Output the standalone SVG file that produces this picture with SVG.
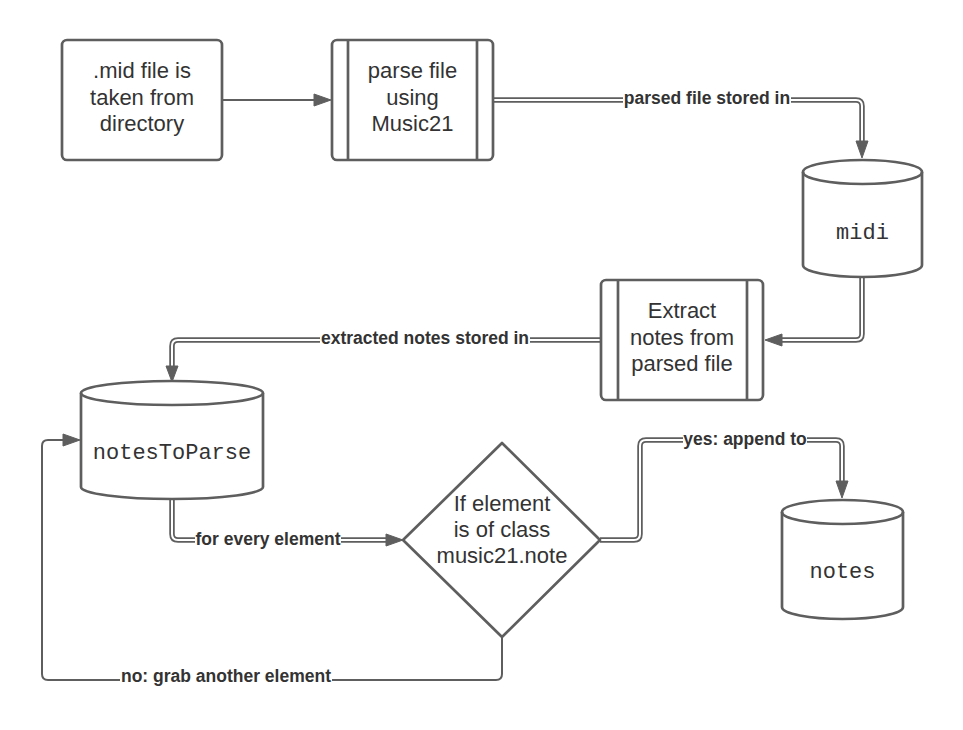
<svg xmlns="http://www.w3.org/2000/svg" width="963" height="730" viewBox="0 0 963 730">
<style>
.shape{fill:#fff;stroke:#5e5e5e;stroke-width:2.7;stroke-linejoin:round}
.inner{fill:none;stroke:#5e5e5e;stroke-width:2.7}
.t{font-family:"Liberation Sans",Arial,sans-serif;font-size:22px;fill:#333;text-anchor:middle}
.m{font-family:"Liberation Mono","Courier New",monospace;font-size:22px;fill:#333;text-anchor:middle}
.lbl{font-family:"Liberation Sans",Arial,sans-serif;font-size:17.5px;font-weight:bold;fill:#333;text-anchor:middle}
.dbo{fill:none;stroke:#5e5e5e;stroke-width:5.5;stroke-linejoin:round}
.dbi{fill:none;stroke:#fff;stroke-width:2;stroke-linejoin:round}
.sgl{fill:none;stroke:#5e5e5e;stroke-width:2;stroke-linejoin:round}
.ah{fill:#5e5e5e;stroke:#5e5e5e;stroke-width:1;stroke-linejoin:round}
.bg{fill:#fff}
</style>
<rect width="963" height="730" fill="#fff"/>
<g id="connectors">
  <path class="sgl" d="M222,100 H314"/>
  <polygon class="ah" points="314,94 314,106 331,100"/>
  <path class="dbo" d="M493,100 H856 Q862,100 862,106 V141"/>
  <path class="dbi" d="M493,100 H856 Q862,100 862,106 V141"/>
  <polygon class="ah" points="856,141 868,141 862,158"/>
  <rect class="bg" x="623" y="88" width="168" height="22"/>
  <text class="lbl" x="707" y="104">parsed file stored in</text>
  <path class="dbo" d="M862,277 V334 Q862,340 856,340 H782"/>
  <path class="dbi" d="M862,277 V334 Q862,340 856,340 H782"/>
  <polygon class="ah" points="782,334 782,346 765,340"/>
  <path class="dbo" d="M601,340 H178 Q172,340 172,346 V366"/>
  <path class="dbi" d="M601,340 H178 Q172,340 172,346 V366"/>
  <polygon class="ah" points="166,366 178,366 172,382"/>
  <rect class="bg" x="320" y="328" width="210" height="22"/>
  <text class="lbl" x="425" y="344">extracted notes stored in</text>
  <path class="dbo" d="M172,500 V534 Q172,540 178,540 H386"/>
  <path class="dbi" d="M172,500 V534 Q172,540 178,540 H386"/>
  <polygon class="ah" points="386,534 386,546 403,540"/>
  <rect class="bg" x="195" y="529" width="146" height="22"/>
  <text class="lbl" x="268" y="545">for every element</text>
  <path class="dbo" d="M600,540 H634 Q640,540 640,534 V446 Q640,440 646,440 H836 Q842,440 842,446 V481"/>
  <path class="dbi" d="M600,540 H634 Q640,540 640,534 V446 Q640,440 646,440 H836 Q842,440 842,446 V481"/>
  <polygon class="ah" points="836,481 848,481 842,498"/>
  <rect class="bg" x="683" y="429" width="124" height="22"/>
  <text class="lbl" x="745" y="445">yes: append to</text>
  <path class="sgl" d="M502,637 V674 Q502,680 496,680 H48 Q42,680 42,674 V446 Q42,440 48,440 H63"/>
  <polygon class="ah" points="63,434 63,446 80,440"/>
  <rect class="bg" x="120" y="669" width="212" height="22"/>
  <text class="lbl" x="226" y="682">no: grab another element</text>
</g>
<g id="node-midfile">
  <rect class="shape" x="62" y="40" width="160" height="120" rx="5"/>
  <text class="t" x="142" y="78">.mid file is</text>
  <text class="t" x="142" y="104.5">taken from</text>
  <text class="t" x="142" y="131">directory</text>
</g>
<g id="node-parse">
  <rect class="shape" x="332" y="40" width="161" height="120" rx="5"/>
  <path class="inner" d="M348,40 V160 M477,40 V160"/>
  <text class="t" x="412.5" y="78">parse file</text>
  <text class="t" x="412.5" y="104.5">using</text>
  <text class="t" x="412.5" y="131">Music21</text>
</g>
<g id="node-midi">
  <path class="shape" d="M803,172 A59.5,12 0 0 1 922,172 V265 A59.5,12 0 0 1 803,265 Z"/>
  <path class="inner" d="M803,172 A59.5,12 0 0 0 922,172"/>
  <text class="m" x="862.5" y="239">midi</text>
</g>
<g id="node-extract">
  <rect class="shape" x="601" y="280" width="162" height="120" rx="5"/>
  <path class="inner" d="M618,280 V400 M747,280 V400"/>
  <text class="t" x="682" y="318">Extract</text>
  <text class="t" x="682" y="344.5">notes from</text>
  <text class="t" x="682" y="371">parsed file</text>
</g>
<g id="node-notesToParse">
  <path class="shape" d="M81,393 A91,12 0 0 1 263,393 V487 A91,12 0 0 1 81,487 Z"/>
  <path class="inner" d="M81,393 A91,12 0 0 0 263,393"/>
  <text class="m" x="172" y="459">notesToParse</text>
</g>
<g id="node-decision">
  <path class="shape" d="M502,443 L600,540 L502,637 L403,540 Z"/>
  <text class="t" x="502" y="511">If element</text>
  <text class="t" x="502" y="537">is of class</text>
  <text class="t" x="502" y="563">music21.note</text>
</g>
<g id="node-notes">
  <path class="shape" d="M782,512 A60.5,12 0 0 1 903,512 V607 A60.5,12 0 0 1 782,607 Z"/>
  <path class="inner" d="M782,512 A60.5,12 0 0 0 903,512"/>
  <text class="m" x="842.5" y="578">notes</text>
</g>
</svg>
